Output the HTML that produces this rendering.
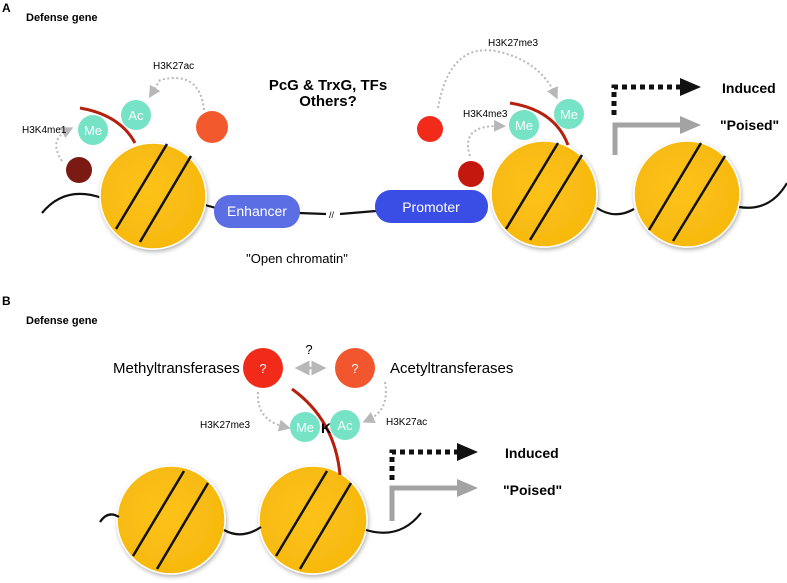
<!DOCTYPE html>
<html><head><meta charset="utf-8"><style>body{margin:0;background:#fff}svg{display:block}text{font-family:"Liberation Sans",Arial,sans-serif}</style></head><body>
<svg width="787" height="583" viewBox="0 0 787 583" xmlns="http://www.w3.org/2000/svg">
<defs>
<marker id="ga" markerWidth="6" markerHeight="6" refX="3" refY="3" orient="auto-start-reverse"><path d="M0,0L6,3L0,6z" fill="#b8b8b8"/></marker>
<radialGradient id="ng" cx="0.45" cy="0.45" r="0.6"><stop offset="0" stop-color="#fdc21a"/><stop offset="1" stop-color="#f6b80e"/></radialGradient>
<filter id="sh" x="-20%" y="-20%" width="140%" height="140%"><feDropShadow dx="1" dy="2" stdDeviation="2" flood-opacity="0.3"/></filter>
</defs>
<g font-weight="bold" font-size="12"><text x="2" y="12">A</text><text x="2" y="305">B</text></g>
<g font-weight="bold" font-size="11"><text x="26" y="21">Defense gene</text><text x="26" y="324">Defense gene</text></g>

<g fill="none" stroke="#111" stroke-width="2.2">
<path d="M42,213 Q65,185 102,198"/>
<path d="M205,205 L216,208"/>
<path d="M299,213 L326,214 M340,214 L376,211"/>
<path d="M597,208 Q615,220 634,209"/>
<path d="M739,207 Q770,212 787,183"/>
</g>
<text x="329" y="218" font-size="9">//</text>
<rect x="214" y="195" width="86" height="33" rx="16" fill="#5c6ee3"/>
<text x="257" y="216" font-size="14" fill="#fff" text-anchor="middle">Enhancer</text>
<rect x="375" y="190" width="113" height="33" rx="16" fill="#3a4ee6"/>
<text x="431" y="212" font-size="14" fill="#fff" text-anchor="middle">Promoter</text>

<g stroke="#fff" stroke-width="1.5" fill="url(#ng)" filter="url(#sh)">
<circle cx="153" cy="196" r="53"/><circle cx="544" cy="194" r="53"/><circle cx="687" cy="194" r="53"/>
<circle cx="171" cy="520" r="54"/><circle cx="313" cy="520" r="54"/>
</g>
<g stroke="#111" stroke-width="2.5">
<line x1="167" y1="144" x2="116" y2="229"/><line x1="191" y1="156" x2="140" y2="242"/>
<line x1="558" y1="143" x2="506" y2="229"/><line x1="582" y1="155" x2="530" y2="240"/>
<line x1="701" y1="143" x2="649" y2="230"/><line x1="725" y1="156" x2="673" y2="241"/>
<line x1="184" y1="471" x2="133" y2="556"/><line x1="208" y1="483" x2="157" y2="569"/>
<line x1="327" y1="471" x2="276" y2="556"/><line x1="351" y1="483" x2="300" y2="569"/>
</g>

<path d="M80,108 Q120,115 135,143" fill="none" stroke="#b5200f" stroke-width="3"/>
<path d="M510,103 Q555,110 568,145" fill="none" stroke="#b5200f" stroke-width="3"/>
<g fill="#76e2c6"><circle cx="93" cy="130" r="15"/><circle cx="136" cy="115" r="15"/><circle cx="524" cy="125" r="15"/><circle cx="569" cy="114" r="15"/></g>
<g fill="#fff" font-size="13" text-anchor="middle"><text x="93" y="135">Me</text><text x="136" y="120">Ac</text><text x="524" y="130">Me</text><text x="569" y="119">Me</text></g>
<circle cx="79" cy="170" r="13" fill="#7a1a12"/>
<circle cx="212" cy="127" r="16" fill="#f25a2e"/>
<circle cx="430" cy="129" r="13" fill="#f22a1a"/>
<circle cx="471" cy="174" r="13" fill="#c4180e"/>
<g fill="none" stroke="#b8b8b8" stroke-width="2" stroke-dasharray="2,2.5" marker-end="url(#ga)">
<path d="M62,161 Q48,140 68,130"/>
<path d="M204,110 Q200,70 160,80 L152,93"/>
<path d="M438,108 Q450,40 500,52 Q540,62 555,94"/>
<path d="M470,156 Q460,125 500,126"/>
</g>
<g font-size="10"><text x="22" y="133">H3K4me1</text><text x="153" y="69">H3K27ac</text><text x="488" y="46">H3K27me3</text><text x="463" y="117">H3K4me3</text></g>
<g font-weight="bold" font-size="15" text-anchor="middle"><text x="328" y="90">PcG &amp; TrxG, TFs</text><text x="328" y="106">Others?</text></g>
<text x="297" y="263" font-size="13" text-anchor="middle">"Open chromatin"</text>

<g stroke="#111" stroke-width="5" stroke-dasharray="5,4" fill="none"><path d="M614,115 L614,87 L683,87"/></g>
<path d="M680,78 L701,87 L680,96z" fill="#111"/>
<path d="M615,155 L615,125 L683,125" fill="none" stroke="#a3a3a3" stroke-width="5"/>
<path d="M680,116 L701,125 L680,134z" fill="#a3a3a3"/>
<g font-weight="bold" font-size="14"><text x="722" y="93">Induced</text><text x="720" y="130">"Poised"</text></g>

<g fill="none" stroke="#111" stroke-width="2.2">
<path d="M100,522 Q108,510 119,517"/>
<path d="M224,530 Q242,540 261,527"/>
<path d="M366,530 Q400,540 421,513"/>
</g>
<path d="M292,389 Q335,420 340,475" fill="none" stroke="#b5200f" stroke-width="3"/>
<circle cx="263" cy="368" r="20" fill="#f22a1a"/><circle cx="355" cy="368" r="20" fill="#f2562e"/>
<g fill="#fff" font-size="13" text-anchor="middle"><text x="263" y="373">?</text><text x="355" y="373">?</text></g>
<text x="309" y="354" font-size="13" text-anchor="middle">?</text>
<path d="M302,368 L319,368" fill="none" stroke="#b8b8b8" stroke-width="2.5" stroke-dasharray="4,2" marker-end="url(#ga)" marker-start="url(#ga)"/>
<g font-size="15"><text x="113" y="373">Methyltransferases</text><text x="390" y="373">Acetyltransferases</text></g>
<g fill="#76e2c6"><circle cx="305" cy="427" r="15"/><circle cx="345" cy="425" r="15"/></g>
<g fill="#fff" font-size="13" text-anchor="middle"><text x="305" y="432">Me</text><text x="345" y="430">Ac</text></g>
<text x="321" y="433" font-size="14" font-weight="bold">K</text>
<g fill="none" stroke="#b8b8b8" stroke-width="2" stroke-dasharray="2,2.5" marker-end="url(#ga)">
<path d="M258,392 Q256,420 285,427"/>
<path d="M385,382 Q390,410 368,420"/>
</g>
<g font-size="10"><text x="200" y="428">H3K27me3</text><text x="386" y="425">H3K27ac</text></g>
<g stroke="#111" stroke-width="5" stroke-dasharray="5,4" fill="none"><path d="M392,480 L392,452 L460,452"/></g>
<path d="M457,443 L478,452 L457,461z" fill="#111"/>
<path d="M392,521 L392,488 L460,488" fill="none" stroke="#a3a3a3" stroke-width="5"/>
<path d="M457,479 L478,488 L457,497z" fill="#a3a3a3"/>
<g font-weight="bold" font-size="14"><text x="505" y="458">Induced</text><text x="503" y="495">"Poised"</text></g>
</svg>
</body></html>
